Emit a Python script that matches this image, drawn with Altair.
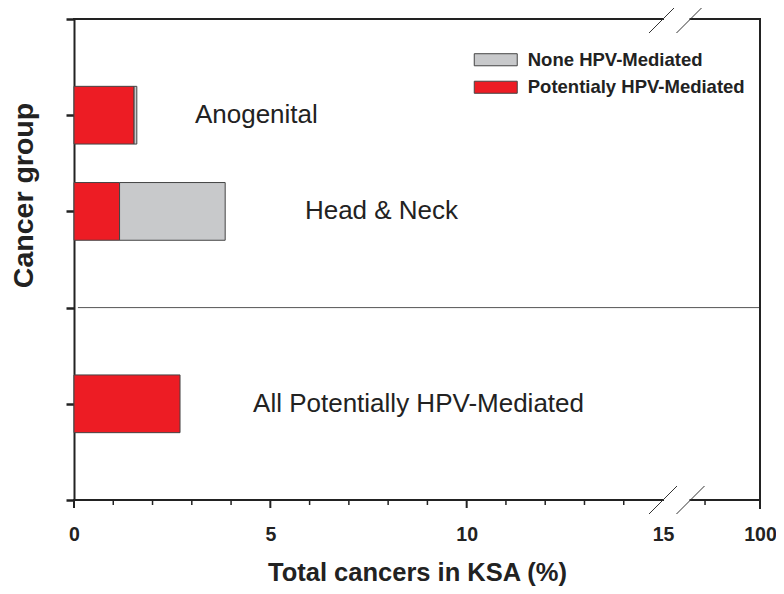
import altair as alt
import pandas as pd

# ---------------- data ----------------
groups = ["Anogenital", "Head & Neck", "All Potentially HPV-Mediated"]
group_pos = [1, 2, 4]                      # category slot on the y axis
potentially_hpv = [1.53, 1.16, 2.70]       # % of total cancers
none_hpv = [0.07, 2.69, 0.0]
label_x = [3.08, 5.88, 4.56]               # where each group name starts
series_names = ["None HPV-Mediated", "Potentialy HPV-Mediated"]
series_colors = ["#C8C9CB", "#ED1C24"]

x_tick_values = [0, 5, 10, 15, 17.47]      # 17.47 stands for 100 after the break
x_tick_labels = ["0", "5", "10", "15", "100"]
x_major_ticks = [0, 5, 10, 17.47]
x_minor_ticks = [1, 2, 3, 4, 6, 7, 8, 9, 11, 12, 13, 14, 16.07]
break_lo, break_hi = 15, 15.7
x_end = 17.47
y_slots = [0, 1, 2, 3, 4, 5]
divider_y = 3

FONT = "Liberation Sans"
INK = "#222222"

# ---------------- tables ----------------
rows = []
for g, p, r, n in zip(groups, group_pos, potentially_hpv, none_hpv):
    rows.append(dict(group=g, pos=p, type=series_names[1], value=r, order=0))
    if n > 0:
        rows.append(dict(group=g, pos=p, type=series_names[0], value=n, order=1))
bars_df = pd.DataFrame(rows)
labels_df = pd.DataFrame(dict(group=groups, pos=group_pos, lx=label_x))

px_x = 686 / x_end
px_y = 481 / 5
frame_df = pd.DataFrame([
    dict(x=0, x2=break_lo, y=0, y2=0),
    dict(x=break_hi, x2=x_end, y=0, y2=0),
    dict(x=0, x2=break_lo, y=5, y2=5),
    dict(x=break_hi, x2=x_end, y=5, y2=5),
    dict(x=x_end, x2=x_end, y=0, y2=5 + 8 / px_y),
])
tick_rows = [dict(x=v, x2=v, y=5, y2=5 + 8 / px_y, w=2) for v in x_major_ticks]
tick_rows += [dict(x=v, x2=v, y=5, y2=5 + 5 / px_y, w=1.5) for v in x_minor_ticks]
ticks_df = pd.DataFrame(tick_rows)
dx, dy = 14 / px_x, 14 / px_y
break_df = pd.DataFrame([
    dict(x=c - dx, x2=c + dx, y=yy + dy, y2=yy - dy)
    for c in (break_lo, break_hi) for yy in (0, 5)
])
divider_df = pd.DataFrame([dict(x=0.1, x2=x_end, y=divider_y, y2=divider_y)])

# ---------------- scales / axes ----------------
xs = alt.Scale(domain=[0, x_end], nice=False, zero=False)
ys = alt.Scale(domain=[0, 5], nice=False, zero=False, reverse=True)

label_expr = " : ".join(
    f"abs(datum.value - {v}) < 0.01 ? '{l}'" for v, l in zip(x_tick_values, x_tick_labels)
) + " : datum.label"

x_axis = alt.Axis(
    values=x_tick_values, labelExpr=label_expr, ticks=False, tickSize=0, domain=False,
    grid=False, labelFont=FONT, labelFontSize=19.5, labelFontWeight="bold", labelColor=INK,
    labelPadding=40, labelBaseline="alphabetic", labelFlush=False, labelOverlap=False,
    title="Total cancers in KSA (%)", titleFont=FONT, titleFontSize=25.5,
    titleFontWeight="bold", titleColor=INK, titleY=80, titleBaseline="alphabetic",
)
y_axis = alt.Axis(
    values=y_slots, labels=False, tickSize=8, tickWidth=2.5, tickColor=INK,
    domainColor=INK, domainWidth=2, grid=False,
    title="Cancer group", titleFont=FONT, titleFontSize=28.5, titleFontWeight="bold",
    titleColor=INK, titleX=-42, titleY=176, titleAngle=270,
    titleBaseline="alphabetic", titleAlign="center",
)

legend = alt.Legend(
    orient="none", legendX=410.25, legendY=29.25, title=None, padding=0,
    symbolType="M-2,-0.56L2,-0.56L2,0.56L-2,0.56Z", symbolSize=462,
    symbolStrokeColor="#444444", symbolStrokeWidth=1, symbolOpacity=1,
    labelFont=FONT, labelFontSize=18.5, labelFontWeight="bold", labelColor=INK,
    labelOffset=20.5, labelLimit=400, rowPadding=6.5,
)

bars = alt.Chart(bars_df).transform_stack(
    stack="value", groupby=["group"], as_=["x0", "x1"],
    sort=[alt.SortField("order", order="ascending")],
).transform_calculate(
    ylo="datum.pos - 0.3", yhi="datum.pos + 0.3"
).mark_rect(stroke="#444444", strokeWidth=1, opacity=1).encode(
    x=alt.X("x0:Q", scale=xs, axis=x_axis),
    x2="x1:Q",
    y=alt.Y("ylo:Q", scale=ys, axis=y_axis),
    y2="yhi:Q",
    color=alt.Color("type:N", scale=alt.Scale(domain=series_names, range=series_colors),
                    legend=legend),
)

def rules(df, color, width, cap="butt"):
    return alt.Chart(df).mark_rule(color=color, strokeWidth=width, strokeCap=cap).encode(
        x=alt.X("x:Q", scale=xs, axis=x_axis), x2="x2:Q",
        y=alt.Y("y:Q", scale=ys, axis=y_axis), y2="y2:Q",
    )

divider = rules(divider_df, "#555555", 1)
frame = rules(frame_df, INK, 2, "square")
ticks = alt.Chart(ticks_df).mark_rule(color=INK).encode(
    x=alt.X("x:Q", scale=xs, axis=x_axis), x2="x2:Q",
    y=alt.Y("y:Q", scale=ys, axis=y_axis), y2="y2:Q",
    strokeWidth=alt.StrokeWidth("w:Q", scale=None, legend=None),
)
breaks = rules(break_df, "#333333", 1)

texts = alt.Chart(labels_df).mark_text(
    align="left", baseline="middle", font=FONT, fontSize=26, color=INK
).encode(
    x=alt.X("lx:Q", scale=xs, axis=x_axis),
    y=alt.Y("pos:Q", scale=ys, axis=y_axis),
    text="group:N",
)

chart = alt.layer(bars, divider, frame, ticks, breaks, texts).properties(
    width=686, height=481,
    autosize=alt.AutoSizeParams(type="none"),
    padding={"left": 66, "top": 11, "right": 16, "bottom": 86},
).configure_view(stroke=None)

chart.save("out.html", embed_options={"renderer": "svg", "actions": False})
